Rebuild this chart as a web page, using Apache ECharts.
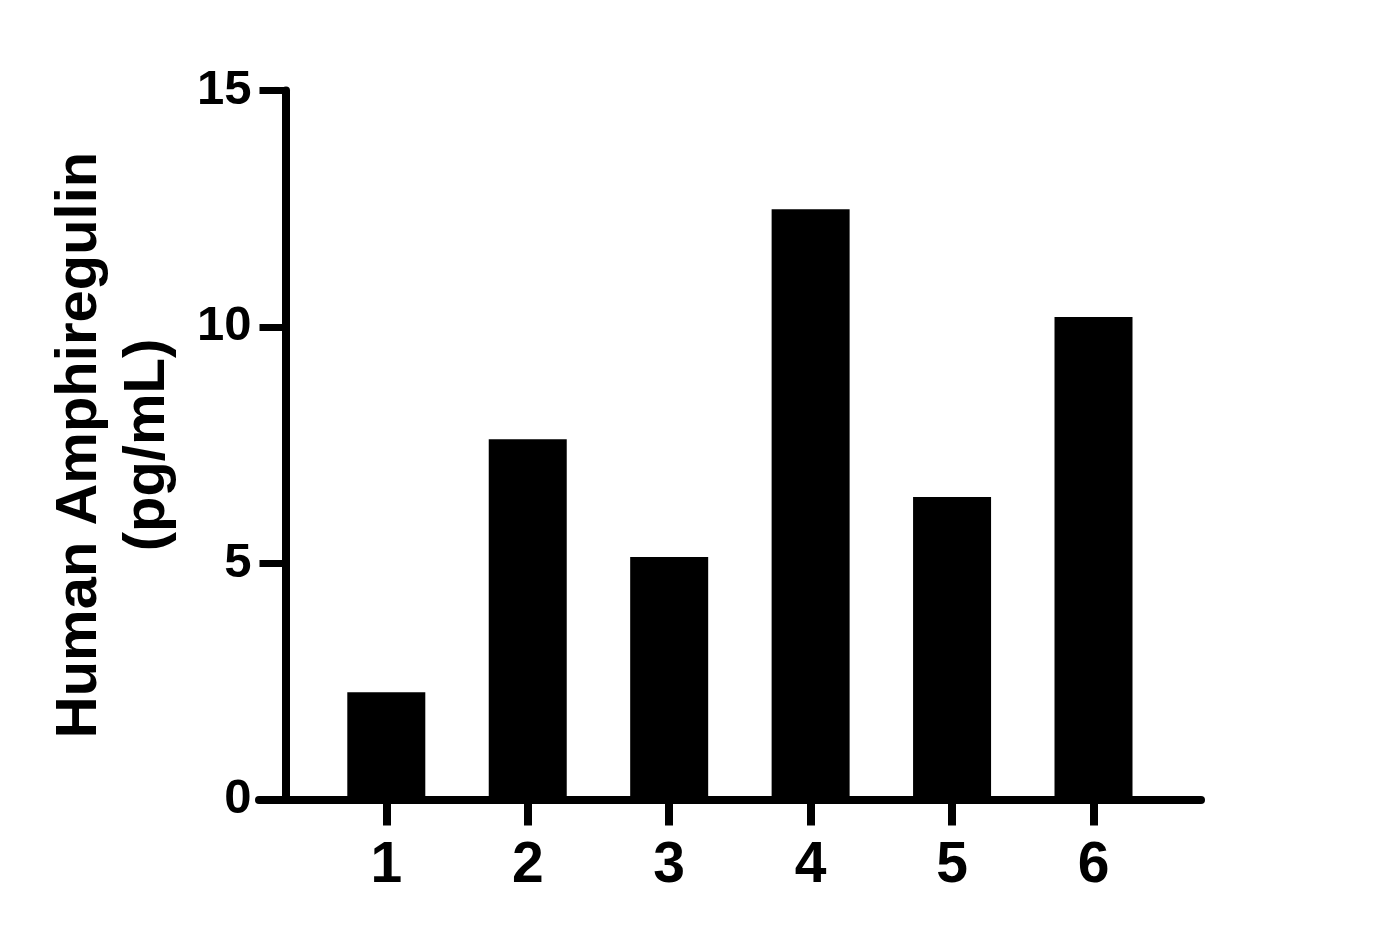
<!DOCTYPE html>
<html>

<head>
    <meta charset="utf-8" />
    <script src="https://cdn.jsdelivr.net/npm/echarts@6/dist/echarts.min.js"></script>
</head>

<body style="margin:0;background:#fff;">
    <div id="main" style="width: 1377px;height:939px;"></div>
    <script type="text/javascript">
        // 数据
        const categories = [1, 2, 3, 4, 5, 6];
        const values = [2.27, 7.62, 5.13, 12.49, 6.40, 10.21];
        const yTicks = [0, 5, 10, 15];
        const yTitle = 'Human Amphiregulin\n(pg/mL)';

        const font = 'Liberation Sans, Arial, sans-serif';
        const myChart = echarts.init(document.getElementById('main'), null, {
            renderer: 'canvas'
        });

        const option = {
            backgroundColor: '#fff',
            animation: false,
            grid: {
                left: 259,
                right: 176,
                top: 90.5,
                bottom: 139.5
            },
            xAxis: {
                type: 'value',
                min: 0.1,
                max: 6.76,
                splitLine: { show: false },
                axisLine: {
                    show: true,
                    onZero: false,
                    lineStyle: { color: '#000', width: 8 }
                },
                axisTick: {
                    show: true,
                    customValues: categories,
                    length: 26,
                    lineStyle: { color: '#000', width: 8 }
                },
                axisLabel: {
                    customValues: categories,
                    margin: 38,
                    color: '#000',
                    fontFamily: font,
                    fontWeight: 'bold',
                    fontSize: 57
                }
            },
            yAxis: {
                type: 'value',
                min: 0,
                max: 15,
                interval: 5,
                offset: -26.5,
                splitLine: { show: false },
                axisLine: {
                    show: true,
                    onZero: false,
                    lineStyle: { color: '#000', width: 8 }
                },
                axisTick: {
                    show: true,
                    length: 26,
                    lineStyle: { color: '#000', width: 7 }
                },
                axisLabel: {
                    margin: 34,
                    color: '#000',
                    fontFamily: font,
                    fontWeight: 'bold',
                    fontSize: 49,
                    formatter: function (v) {
                        return yTicks.indexOf(v) >= 0 ? String(v) : '';
                    }
                },
                name: yTitle,
                nameLocation: 'middle',
                nameRotate: 90,
                nameGap: 104,
                nameTextStyle: {
                    color: '#000',
                    fontFamily: font,
                    fontWeight: 'bold',
                    fontSize: 58,
                    lineHeight: 68,
                    align: 'center'
                }
            },
            series: [{
                type: 'bar',
                data: categories.map((c, i) => [c, values[i]]),
                barWidth: 78,
                itemStyle: { color: '#000' }
            }]
        };

        myChart.setOption(option);
        window.addEventListener('resize', myChart.resize);
    </script>
</body>

</html>
